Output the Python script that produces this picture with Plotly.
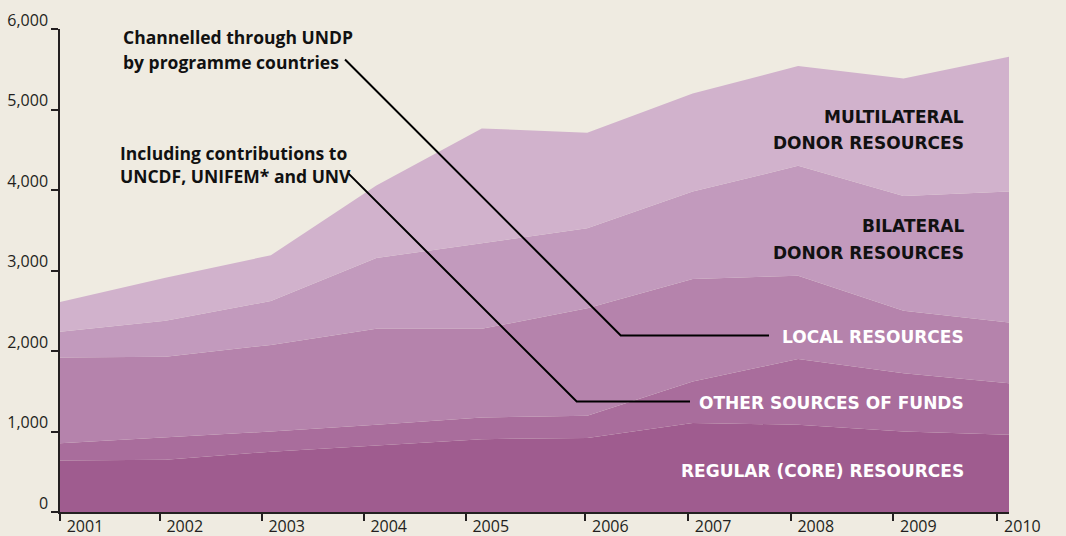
import plotly.graph_objects as go

#~ Data (millions of US$)
years = [2001, 2002, 2003, 2004, 2005, 2006, 2007, 2008, 2009, 2010]
regular_core = [640, 650, 750, 830, 905, 920, 1105, 1085, 1000, 960]
other_sources = [215, 280, 250, 255, 270, 275, 515, 815, 725, 640]
local_resources = [1065, 1000, 1075, 1190, 1100, 1335, 1275, 1035, 775, 755]
bilateral_donor = [320, 445, 545, 880, 1065, 995, 1085, 1365, 1425, 1625]
multilateral_donor = [370, 535, 570, 900, 1425, 1185, 1220, 1240, 1460, 1675]
tick_labels = ["2001", "2002", "2003", "2004", "2005", "2006", "2007", "2008", "2009", "2010"]

series = [("Regular (core) resources", regular_core, "#9f5c8f"),
          ("Other sources of funds", other_sources, "#a96d9c"),
          ("Local resources", local_resources, "#b583ac"),
          ("Bilateral donor resources", bilateral_donor, "#c29abd"),
          ("Multilateral donor resources", multilateral_donor, "#d1b2cc")]

BG = "#efebe1"
INK = "#231f20"

fig = go.Figure()
for name, vals, col in series:
    fig.add_trace(go.Scatter(x=years, y=vals, name=name, stackgroup="one",
                             mode="lines", line=dict(width=0, color=col),
                             fillcolor=col, hoverinfo="skip"))

#~ Ticks on the original sit a little off the data columns
tick_pos = [2001.0, 2001.946, 2002.913, 2003.88, 2004.848, 2005.982,
            2006.956, 2007.93, 2008.903, 2009.89]

fig.update_layout(width=1066, height=536, showlegend=False,
                  paper_bgcolor=BG, plot_bgcolor=BG,
                  margin=dict(l=60, r=57, t=29, b=24, autoexpand=False),
                  font=dict(family="Open Sans", color=INK))

fig.update_xaxes(range=[2001, 2010], tickvals=tick_pos, ticktext=tick_labels,
                 showgrid=False, zeroline=False, showline=True, linecolor=INK, linewidth=2,
                 ticks="outside", ticklen=7, tickcolor=INK, tickwidth=1.5, automargin=False,
                 ticklabelshift=25, ticklabelstandoff=-8, tickfont=dict(size=16, color=INK))
fig.update_yaxes(range=[0, 6000], tickvals=[0, 1000, 2000, 3000, 4000, 5000, 6000],
                 tickformat=",", showgrid=False, zeroline=False,
                 showline=True, linecolor=INK, linewidth=1.5, automargin=False,
                 ticks="outside", ticklen=7, tickcolor=INK, tickwidth=1.5,
                 ticklabelshift=-9, tickfont=dict(size=16, color=INK))

#~ Callouts on the left with leader lines
def note(text, x, y, anchor="left", color="#111111", size=17.5, family="Open Sans"):
    fig.add_annotation(x=x, y=y, xref="x", yref="y", text=text, showarrow=False,
                       xanchor=anchor, yanchor="middle",
                       font=dict(family=family, size=size, color=color, weight="bold"))

note("Channelled through UNDP", 2001.576, 5902)
note("by programme countries", 2001.576, 5592)
note("Including contributions to", 2001.553, 4455)
note("UNCDF, UNIFEM* and UNV", 2001.553, 4173)

lead = dict(color="#000000", width=2)
fig.add_shape(type="path", xref="x", yref="y", line=lead,
              path="M 2003.703 5622 L 2006.318 2192 L 2007.724 2192")
fig.add_shape(type="path", xref="x", yref="y", line=lead,
              path="M 2003.734 4207 L 2005.9 1373 L 2006.975 1373")

#~ Series labels on the right
caps = dict(anchor="right", size=17, family="DejaVu Sans")
note("MULTILATERAL", 2009.59, 4909, **caps)
note("DONOR RESOURCES", 2009.59, 4579, **caps)
note("BILATERAL", 2009.59, 3553, **caps)
note("DONOR RESOURCES", 2009.59, 3214, **caps)
note("LOCAL RESOURCES", 2009.59, 2172, color="white", **caps)
note("OTHER SOURCES OF FUNDS", 2009.59, 1360, color="white", **caps)
note("REGULAR (CORE) RESOURCES", 2009.59, 504, color="white", **caps)

fig.write_html("out.html", config={"displayModeBar": False},
               post_script="document.body.style.margin='0';document.body.style.overflow='hidden';")
